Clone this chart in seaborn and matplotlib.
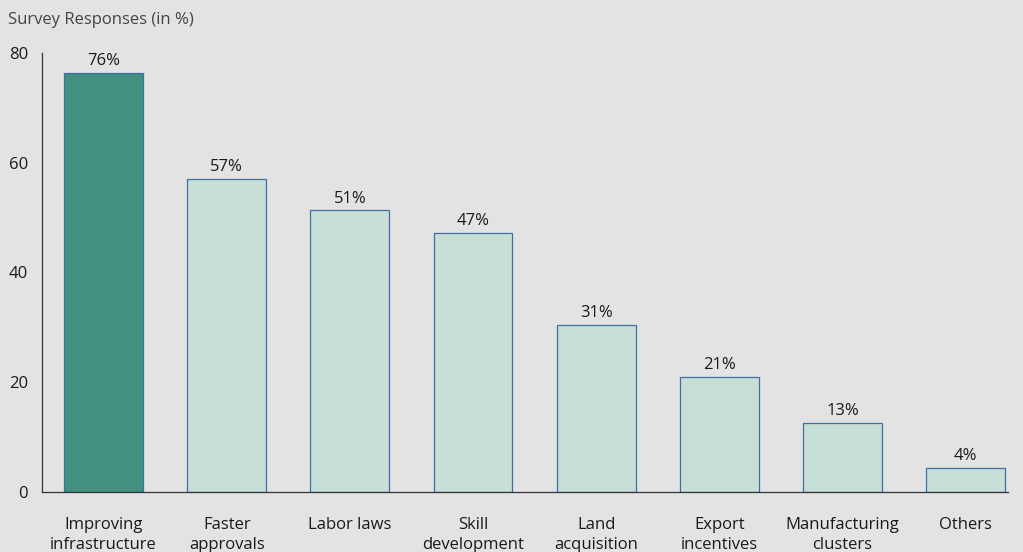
import matplotlib
matplotlib.use("Agg")
import matplotlib.pyplot as plt
import seaborn as sns
import pandas as pd

categories = ["Improving\ninfrastructure", "Faster\napprovals", "Labor laws", "Skill\ndevelopment",
              "Land\nacquisition", "Export\nincentives", "Manufacturing\nclusters", "Others"]
values = [76.4, 57.0, 51.3, 47.2, 30.4, 20.9, 12.6, 4.3]
labels = ["76%", "57%", "51%", "47%", "31%", "21%", "13%", "4%"]

df = pd.DataFrame({"category": categories, "value": values})

sns.set_style("white")
plt.rcParams["font.family"] = ["Open Sans", "DejaVu Sans"]

bg = "#e3e3e3"
fig = plt.figure(figsize=(10.23, 5.52), dpi=100, facecolor=bg)
ax = fig.add_axes([0.041, 0.109, 0.944, 0.795])
ax.set_facecolor(bg)

colors = ["#409180"] + ["#c8dfd7"] * (len(categories) - 1)
sns.barplot(data=df, x="category", y="value", hue="category", palette=colors,
            legend=False, width=0.64, edgecolor="#3f6fa3", linewidth=0.9,
            saturation=1, ax=ax)

for i, (v, lab) in enumerate(zip(values, labels)):
    ax.text(i, v + 0.7, lab, ha="center", va="bottom", fontsize=12, color="#1a1a1a")

ax.set_xlim(-0.5, 7.34)
ax.set_ylim(0, 80)
ax.set_yticks([0, 20, 40, 60, 80])
ax.set_xlabel("")
ax.set_ylabel("")
ax.tick_params(axis="y", length=0, pad=10, labelsize=12, labelcolor="#1a1a1a")
ax.tick_params(axis="x", length=0, pad=18, labelsize=12, labelcolor="#1a1a1a")
for t in ax.get_xticklabels():
    t.set_linespacing(1.33)

for s in ["top", "right"]:
    ax.spines[s].set_visible(False)
ax.spines["left"].set_color("#333333")
ax.spines["bottom"].set_color("#333333")
ax.spines["left"].set_linewidth(0.9)
ax.spines["bottom"].set_linewidth(0.9)

fig.text(0.008, 0.964, "Survey Responses (in %)", fontsize=12, color="#444444", ha="left", va="center")

fig.savefig("out.png", dpi=100, facecolor=bg)
